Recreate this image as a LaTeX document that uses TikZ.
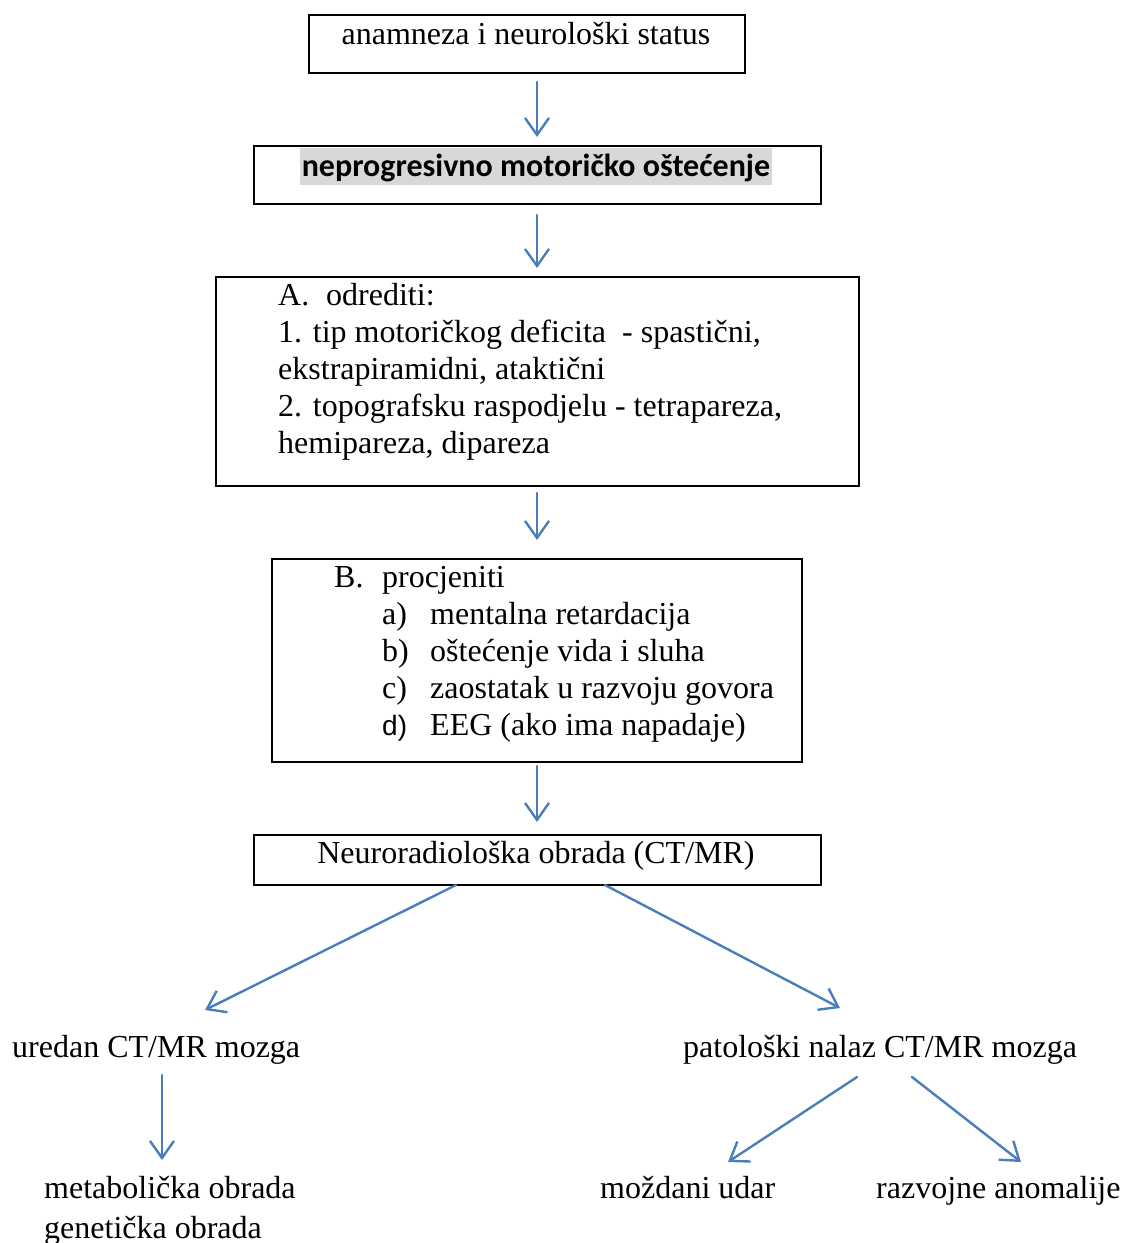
\documentclass[tikz,border=0pt]{standalone}
\usepackage{fontspec}
\setmainfont{Liberation Serif}
\newfontfamily\calib{Carlito}
\newfontfamily\arialf{Liberation Sans}
\usetikzlibrary{arrows.meta}
\definecolor{arrblue}{RGB}{74,126,187}
\definecolor{hlgray}{RGB}{216,216,216}
\tikzset{
  boxnode/.style={draw=black, line width=2pt, rectangle, inner sep=0pt, anchor=north west},
  txt/.style={inner sep=0pt, font=\fontsize{32}{38}\selectfont},
  arr/.style={draw=arrblue, line width=2.4pt, line cap=round, -{Straight Barb[length=17pt,width=24pt,line width=2.4pt]}},
}
\begin{document}
\begin{tikzpicture}[x=1pt,y=-1pt]
\useasboundingbox (0,0) rectangle (1122,1243);
% boxes
\node[boxnode, minimum width=436pt, minimum height=58pt] (b1) at (308,14) {};
\node[txt, anchor=base] (t1) at (526,44) {anamneza i neurološki status};

\node[boxnode, minimum width=567pt, minimum height=58pt] (b2) at (253,145) {};
\fill[hlgray] (300,148) rectangle (772,185);
\node[txt, anchor=base, font=\calib\bfseries\fontsize{32}{38}\selectfont] (t2) at (536,176) {neprogresivno motoričko oštećenje};

\node[boxnode, minimum width=643pt, minimum height=209pt] (b3) at (215,276) {};
\node[txt, anchor=base west] (t3a) at (278,305) {A.};
\node[txt, anchor=base west] (t3b) at (326,305) {odrediti:};
\node[txt, anchor=base west] (t3c) at (278,342) {1. tip motoričkog deficita\ \ - spastični,};
\node[txt, anchor=base west] (t3d) at (278,379) {ekstrapiramidni, ataktični};
\node[txt, anchor=base west] (t3e) at (278,416) {2. topografsku raspodjelu - tetrapareza,};
\node[txt, anchor=base west] (t3f) at (278,453) {hemipareza, dipareza};

\node[boxnode, minimum width=530pt, minimum height=203pt] (b4) at (271,558) {};
\node[txt, anchor=base west] (t4a) at (334,587) {B.};
\node[txt, anchor=base west] (t4b) at (382,587) {procjeniti};
\node[txt, anchor=base west] (l4a) at (382,624) {a)};
\node[txt, anchor=base west] (i4a) at (430,624) {mentalna retardacija};
\node[txt, anchor=base west] (l4b) at (382,661) {b)};
\node[txt, anchor=base west] (i4b) at (430,661) {oštećenje vida i sluha};
\node[txt, anchor=base west] (l4c) at (382,698) {c)};
\node[txt, anchor=base west] (i4c) at (430,698) {zaostatak u razvoju govora};
\node[txt, anchor=base west, font=\arialf\fontsize{28}{34}\selectfont] (l4d) at (382,735) {d)};
\node[txt, anchor=base west] (i4d) at (430,735) {EEG (ako ima napadaje)};

\node[boxnode, minimum width=567pt, minimum height=50pt] (b5) at (253,834) {};
\node[txt, anchor=base] (t5) at (536,863) {Neuroradiološka obrada (CT/MR)};

% lower texts
\node[txt, anchor=base west] (u1) at (12,1057) {uredan CT/MR mozga};
\node[txt, anchor=base west] (p1) at (683,1057) {patološki nalaz CT/MR mozga};
\node[txt, anchor=base west] (m1) at (44,1198) {metabolička obrada};
\node[txt, anchor=base west] (g1) at (44,1238) {genetička obrada};
\node[txt, anchor=base west] (md) at (600,1198) {moždani udar};
\node[txt, anchor=base west] (ra) at (876,1198) {razvojne anomalije};

% coordinates for connector ends
\coordinate (a1s) at (537,82);  \coordinate (a1e) at (537,137);
\coordinate (a2s) at (537,215); \coordinate (a2e) at (537,268);
\coordinate (a3s) at (537,493); \coordinate (a3e) at (537,540);
\coordinate (a4s) at (537,766); \coordinate (a4e) at (537,822);
\coordinate (a5s) at (456,885); \coordinate (a5e) at (205,1010);
\coordinate (a6s) at (605,885); \coordinate (a6e) at (840,1008);
\coordinate (a7s) at (162,1075); \coordinate (a7e) at (162,1160);
\coordinate (a8s) at (857,1077); \coordinate (a8e) at (728,1162);
\coordinate (a9s) at (912,1077); \coordinate (a9e) at (1021,1162);

\draw[arr] (a1s) -- (a1e);
\draw[arr] (a2s) -- (a2e);
\draw[arr] (a3s) -- (a3e);
\draw[arr] (a4s) -- (a4e);
\draw[arr] (a5s) -- (a5e);
\draw[arr] (a6s) -- (a6e);
\draw[arr] (a7s) -- (a7e);
\draw[arr] (a8s) -- (a8e);
\draw[arr] (a9s) -- (a9e);
\end{tikzpicture}
\end{document}
